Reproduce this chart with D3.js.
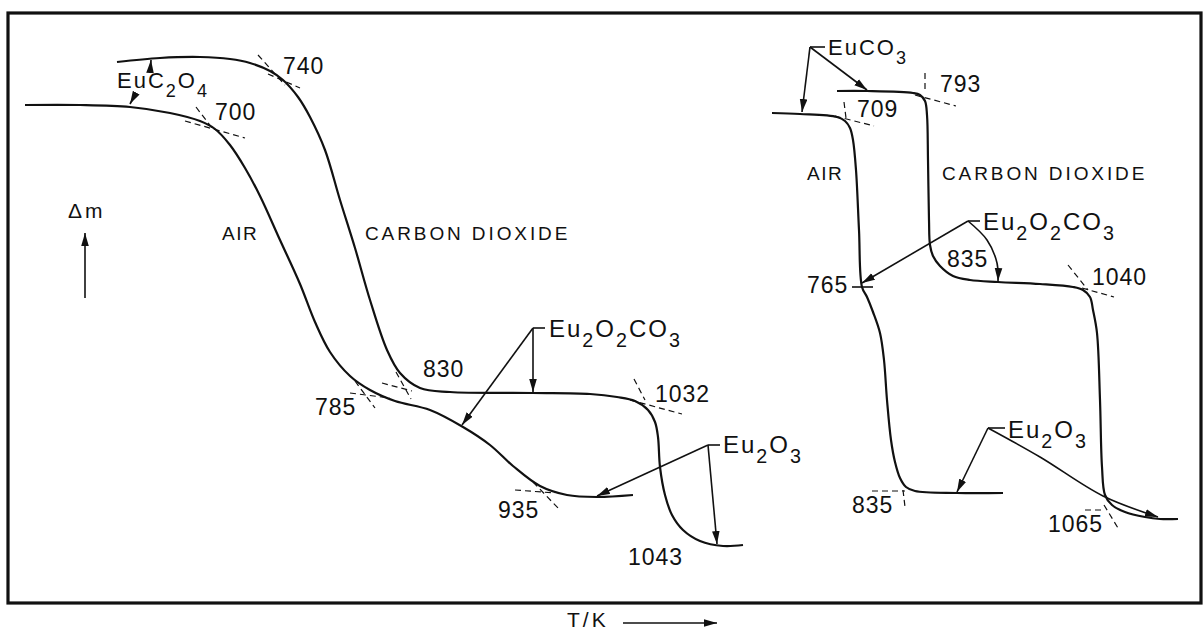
<!DOCTYPE html>
<html lang="en">
<head>
<meta charset="UTF-8">
<title>TG curves of EuC2O4 and EuCO3</title>
<script src="https://d3js.org/d3.v7.min.js"></script>
<style>
    body { margin: 0; background: #fff; }
    svg { display: block; font-family: "Liberation Sans", Arial, sans-serif; }
    .curve { fill: none; stroke: #111; stroke-width: 2.2; }
    .tangent { fill: none; stroke: #111; stroke-width: 1.2; stroke-dasharray: 6,4; }
    .leader { fill: none; stroke: #111; stroke-width: 1.6; }
    text { fill: #111; }
</style>
</head>
<body>
<div id="chart"></div>
<script>
// all values in chart units: x = relative temperature, y = relative mass (Δm)
const airLeft = [
    [1.7,49.8],[7.2,49.8],[12.2,49.6],[16.2,49.0],[19.2,48.2],[20.7,47.4],[22.2,45.8],
    [23.7,43.5],[25.2,40.7],[27.2,36.3],[29.2,31.9],[30.7,28.1],[32.2,25.1],[34.2,22.7],
    [36.2,21.3],[38.7,20.2],[42.2,19.3],[45.5,17.6],[48.2,15.8],[50.5,13.7],[53.2,11.7],
    [55.9,10.8],[58.9,10.6],[62.5,10.8]
];
const co2Left = [
    [10.9,54.1],[15.2,54.5],[19.2,54.6],[22.2,54.4],[24.2,54.0],[26.2,53.2],[27.5,52.3],
    [29.0,50.6],[30.2,48.6],[31.7,45.3],[33.2,40.3],[34.7,35.5],[36.2,30.3],[37.9,25.3],
    [39.2,23.0],[41.2,21.5],[44.2,21.1],[52.5,21.0],[58.2,20.9],[60.9,20.6],[62.7,20.2],
    [64.0,19.3],[64.7,18.1],[65.0,16.6],[65.2,13.6],[65.7,10.8],[66.4,8.8],[67.5,7.3],
    [69.2,6.2],[71.5,5.7],[73.5,5.8]
];
const airRight = [
    [76.4,49.0],[79.2,48.9],[82.9,48.6],[83.7,48.2],[84.2,47.5],[84.5,46.3],[84.8,43.3],
    [85.1,37.3],[85.4,31.6],[85.9,30.6],[86.5,29.1],[87.2,27.0],[87.6,24.3],[87.9,20.3],
    [88.3,16.3],[88.7,14.1],[89.2,12.5],[89.8,11.6],[90.7,11.2],[94.9,11.0],[99.5,11.0]
];
const co2Right = [
    [82.9,51.2],[85.9,51.2],[90.5,51.0],[91.2,50.8],[91.7,50.2],[91.9,48.8],[92.0,44.3],
    [92.1,38.3],[92.2,35.8],[92.5,34.7],[93.2,33.7],[94.5,32.7],[96.2,32.3],[99.0,32.1],
    [103.2,31.9],[106.5,31.6],[107.5,31.3],[108.2,30.6],[108.5,29.3],[108.9,27.0],
    [109.2,20.3],[109.4,13.6],[109.7,10.8],[110.4,9.8],[111.7,9.1],[113.7,8.6],
    [115.2,8.4],[117.0,8.4]
];

// onset temperatures (K) and where they are written
const tempText = ["740","700","830","785","935","1032","1043","793","709","835","765","1040","835","1065"];
const tempAt = [
    [27.5,52.9],[20.7,48.3],[41.5,22.6],[30.7,18.8],[49.0,8.5],[64.7,20.1],[62.0,3.8],
    [93.2,51.1],[84.9,48.6],[93.9,33.6],[79.9,31.0],[108.4,31.8],[84.4,9.0],[104.0,7.1]
];

// dashed tangent constructions at each onset
const tangents = [
    [[25.0,54.8],[27.7,51.8]], [[26.0,52.9],[29.2,51.5]],
    [[18.8,49.6],[20.4,47.5]], [[17.7,48.2],[23.7,46.5]],
    [[37.4,22.0],[40.4,21.2]], [[38.8,23.1],[40.3,20.4]],
    [[34.2,21.0],[38.2,20.5]], [[34.7,22.2],[36.7,19.5]],
    [[50.7,11.3],[54.7,11.0]], [[52.5,12.1],[55.0,9.5]],
    [[62.6,22.4],[63.7,20.3]], [[62.2,20.3],[67.4,18.9]],
    [[91.7,53.0],[91.7,51.0]], [[90.7,50.8],[94.8,49.7]],
    [[83.6,50.1],[83.8,48.5]], [[82.7,48.7],[86.6,47.7]],
    [[106.0,33.8],[108.0,31.3]], [[107.4,31.5],[110.6,30.6]],
    [[86.4,11.2],[89.7,11.2]], [[89.5,11.3],[89.7,9.6]],
    [[107.7,9.3],[109.4,9.3]], [[109.6,9.8],[111.0,7.5]]
];
const ticks = [[[84.4,31.6],[86.5,31.6]]];

// phase labels and leader arrows
const phaseText = ["EuC_2O_4","Eu_2O_2CO_3","Eu_2O_3","EuCO_3","Eu_2O_2CO_3","Eu_2O_3"];
const phaseAt = [[10.9,51.5],[54.1,26.6],[71.5,15.0],[82.0,54.8],[97.5,37.3],[100.0,16.5]];
const phaseSize = [22,24,24,22,24,24];
const brackets = [
    [[52.5,27.5],[53.7,27.5]], [[70.0,15.8],[71.2,15.8]], [[80.2,55.6],[81.7,55.6]],
    [[96.0,38.2],[97.2,38.2]], [[98.0,17.5],[99.7,17.5]]
];
const arrows = [
    [[14.2,53.0],[14.3,54.3]],
    [[12.8,51.0],[12.2,49.9]],
    [[52.5,27.5],[52.5,21.1]],
    [[52.5,27.5],[45.4,17.8]],
    [[70.0,15.8],[70.9,5.9]],
    [[70.0,15.8],[58.9,10.7]],
    [[80.2,55.6],[79.4,49.1]],
    [[80.2,55.6],[85.9,51.3]],
    [[96.0,38.2],[85.4,32.0]],
    [[96.0,38.2],[97.9,36.3],[98.9,34.0],[99.0,32.2]],
    [[98.0,17.5],[94.9,11.1]],
    [[98.0,17.5],[103.2,14.6],[109.5,10.7],[115.0,8.6]]
];

const gasText = ["AIR","CARBON DIOXIDE","AIR","CARBON DIOXIDE"];
const gasAt = [[21.4,36.3],[35.7,36.3],[79.9,42.3],[93.4,42.3]];

const W = 1204, H = 635;
const x = d3.scaleLinear().domain([0, 119.3]).range([8, 1201]);
const y = d3.scaleLinear().domain([0, 59]).range([603, 13]);

const svg = d3.select("#chart").append("svg")
    .attr("width", W)
    .attr("height", H);

svg.append("defs").append("marker")
    .attr("id", "head")
    .attr("viewBox", "0 -4 13 8")
    .attr("refX", 13)
    .attr("refY", 0)
    .attr("markerUnits", "userSpaceOnUse")
    .attr("markerWidth", 13)
    .attr("markerHeight", 8)
    .attr("orient", "auto")
    .append("path")
    .attr("d", "M0,-3.8L13,0L0,3.8Z")
    .attr("fill", "#111");

// frame
svg.append("rect")
    .attr("x", x(0)).attr("y", y(59))
    .attr("width", x(119.3) - x(0))
    .attr("height", y(0) - y(59))
    .attr("fill", "none")
    .attr("stroke", "#111")
    .attr("stroke-width", 3.2);

const line = d3.line().x(d => x(d[0])).y(d => y(d[1])).curve(d3.curveCatmullRom.alpha(0.5));
const straight = d3.line().x(d => x(d[0])).y(d => y(d[1]));

svg.append("g").selectAll("path")
    .data([airLeft, co2Left, airRight, co2Right])
    .enter().append("path")
    .attr("class", "curve")
    .attr("d", line);

svg.append("g").selectAll("path")
    .data(tangents)
    .enter().append("path")
    .attr("class", "tangent")
    .attr("d", straight);

svg.append("g").selectAll("path")
    .data(ticks.concat(brackets))
    .enter().append("path")
    .attr("class", "leader")
    .attr("d", straight);

svg.append("g").selectAll("path")
    .data(arrows)
    .enter().append("path")
    .attr("class", "leader")
    .attr("d", d => d.length > 2 ? line(d) : straight(d))
    .attr("marker-end", "url(#head)");

// temperatures
svg.append("g").selectAll("text")
    .data(tempText)
    .enter().append("text")
    .attr("x", (d, i) => x(tempAt[i][0]))
    .attr("y", (d, i) => y(tempAt[i][1]))
    .attr("font-size", 23)
    .attr("letter-spacing", 1)
    .text(d => d);

// gas names
svg.append("g").selectAll("text")
    .data(gasText)
    .enter().append("text")
    .attr("x", (d, i) => x(gasAt[i][0]))
    .attr("y", (d, i) => y(gasAt[i][1]))
    .attr("font-size", 19)
    .attr("letter-spacing", d => d === "AIR" ? 1.5 : 2.9)
    .text(d => d);

// chemical formulas with subscripts
phaseText.forEach((f, i) => {
    const size = phaseSize[i];
    const t = svg.append("text")
        .attr("x", x(phaseAt[i][0]))
        .attr("y", y(phaseAt[i][1]))
        .attr("font-size", size)
        .attr("letter-spacing", 2);
    let shifted = false;
    f.match(/_\d|[^_]+/g).forEach(part => {
        if (part[0] === "_") {
            t.append("tspan").attr("dy", size * 0.42).attr("font-size", size * 0.82).text(part.slice(1));
            shifted = true;
        } else {
            t.append("tspan").attr("dy", shifted ? -size * 0.42 : 0).text(part);
            shifted = false;
        }
    });
});

// Δm axis hint
svg.append("text")
    .attr("x", x(6.0)).attr("y", y(38.5))
    .attr("font-size", 21)
    .attr("letter-spacing", 3)
    .text("Δm");
svg.append("path")
    .attr("class", "leader")
    .attr("stroke-width", 1.3)
    .attr("d", straight([[7.7,30.5],[7.7,37.0]]))
    .attr("marker-end", "url(#head)");

// T/K axis hint, below the frame
svg.append("text")
    .attr("x", x(55.9)).attr("y", y(-2.4))
    .attr("font-size", 21)
    .attr("letter-spacing", 3)
    .text("T/K");
svg.append("path")
    .attr("class", "leader")
    .attr("stroke-width", 1.3)
    .attr("d", straight([[61.5,-2.0],[70.9,-2.0]]))
    .attr("marker-end", "url(#head)");
</script>
</body>
</html>
